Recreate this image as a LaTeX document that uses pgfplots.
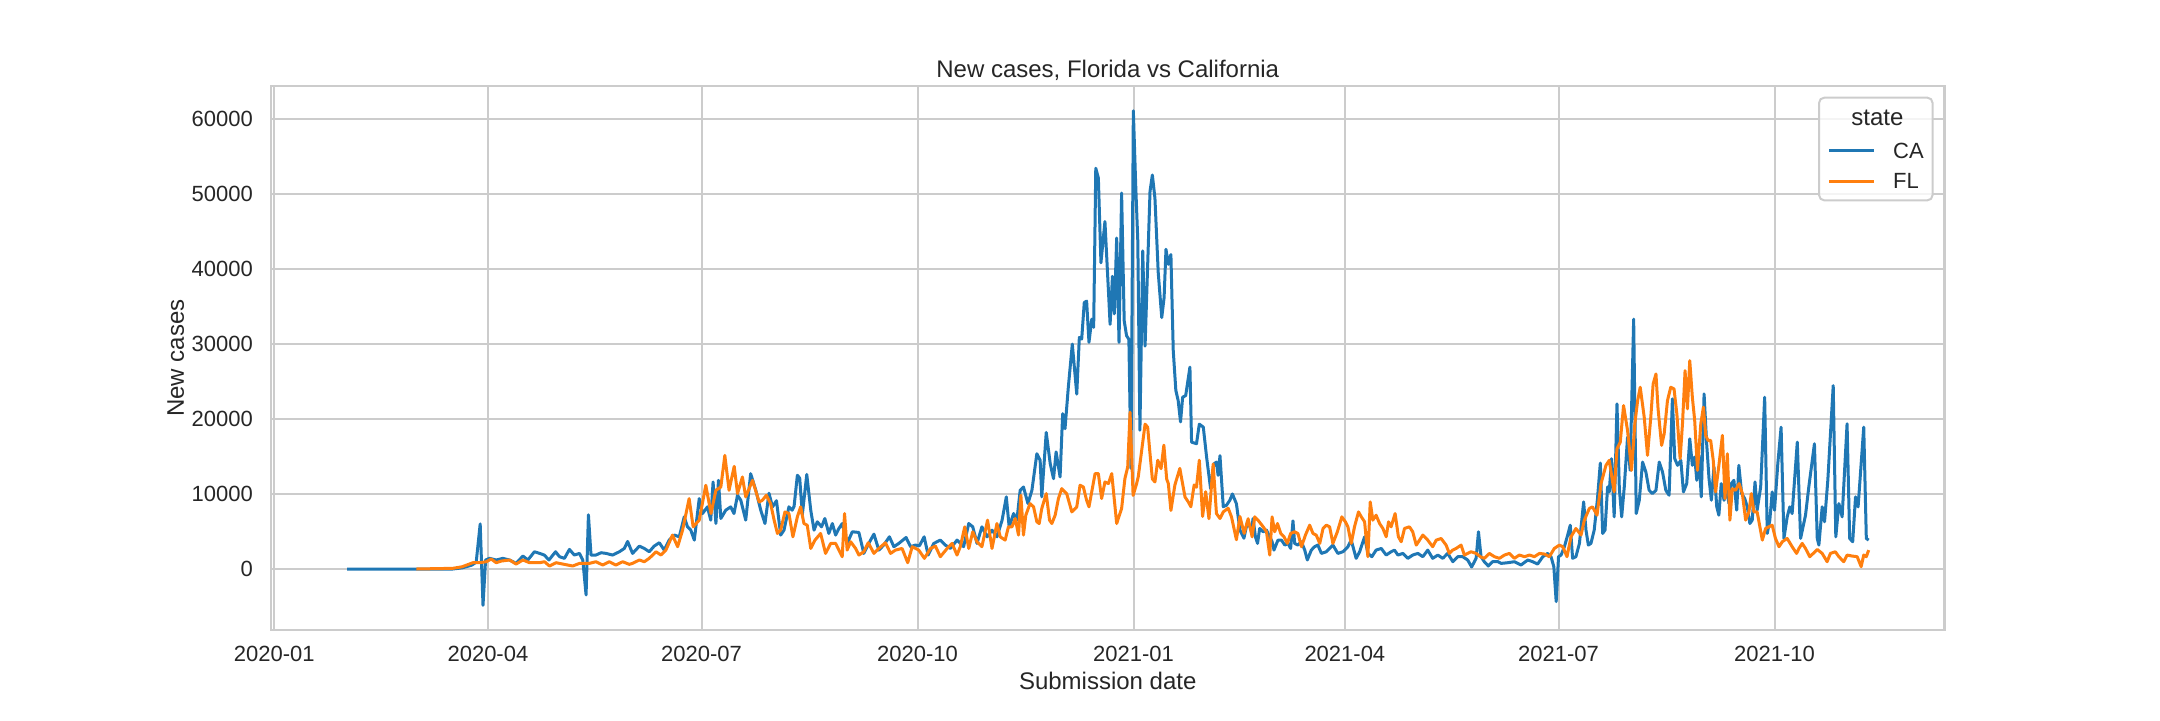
\documentclass[border=0pt]{standalone}
\usepackage{pgfplots}
\pgfplotsset{compat=1.18}
\usepackage{fontspec}
\setmainfont{Liberation Sans}
\definecolor{tabblue}{HTML}{1F77B4}
\definecolor{taborange}{HTML}{FF7F0E}
\definecolor{gridgray}{HTML}{CCCCCC}
\definecolor{textgray}{HTML}{262626}
\begin{document}
\begin{tikzpicture}
\useasboundingbox (0,0) rectangle (1080pt,360pt);
\begin{axis}[
  at={(135.5pt,45pt)}, anchor=south west,
  scale only axis, width=836.75pt, height=272pt,
  xmin=-1.4, xmax=711.4, ymin=-8128, ymax=64357,
  xtick={0,91,182,274,366,456,547,639},
  xticklabels={2020-01,2020-04,2020-07,2020-10,2021-01,2021-04,2021-07,2021-10},
  ytick={0,10000,20000,30000,40000,50000,60000},
  scaled y ticks=false,
  yticklabel style={/pgf/number format/fixed,/pgf/number format/1000 sep={},/pgf/number format/assume math mode=true,anchor=east,inner sep=0pt,xshift=-8.85pt},
  xticklabel style={anchor=base,inner sep=0pt,yshift=-15.85pt},
  tick label style={font=\fontsize{11}{13}\selectfont,color=textgray},
  major tick length=0pt,
  grid=major,
  major grid style={color=gridgray,line width=1pt},
  axis line style={color=gridgray,line width=1.25pt},
  title={New cases, Florida vs California},
  title style={at={(axis description cs:0.5,1)},anchor=base,yshift=-1.5pt,font=\fontsize{12}{14}\selectfont,color=textgray},
  xlabel={Submission date},
  xlabel style={at={(axis description cs:0.5,0)},anchor=base,yshift=-29.5pt,font=\fontsize{12}{14}\selectfont,color=textgray},
  ylabel={New cases},
  ylabel style={at={(axis description cs:-0.0569,0.5)},anchor=center,font=\fontsize{12}{14}\selectfont,color=textgray},
  legend style={at={(axis description cs:1,1)},anchor=north east,xshift=-5.5pt,yshift=-5.35pt,
    draw=gridgray,line width=1pt,rounded corners=2.5pt,fill=white,fill opacity=0.8,text opacity=1,
    text=textgray,font=\fontsize{11}{13}\selectfont,inner xsep=4.4pt,inner ysep=5.7pt,
    column sep=8.6pt,row sep=7.45pt,
    nodes={inner sep=0pt,text height=7.9pt,text depth=0pt}},
  legend cell align=left,
  legend image code/.code={\draw[#1,line width=1.5pt] (0pt,0pt) -- (22.5pt,0pt);},
]
\addlegendimage{empty legend}
\addlegendentry[text height=9.2pt]{\hspace*{-20.9pt}\fontsize{12}{14}\selectfont\raisebox{1.1pt}{state}}

\addplot[color=tabblue,line width=1.5pt,line join=round,no markers] coordinates {
(31,0)(60,0)(76,0)(80,150)(84,500)(86,900)(87.7,6000)(88.9,-4830)(90,1200)(91.7,1420)(94.5,1200)(97.4,1420)(100.2,1200)(103,750)(105.9,1730)(108,1200)(110.8,2300)(113,2080)(115,1860)(117,1200)(119.8,2300)(121.5,1640)(123.6,1420)(125.7,2610)(127.8,1860)(130,2080)(131.4,1200)(132.8,-3450)(133.8,7220)(134.9,1860)(137,1860)(139.2,2170)(141.3,2080)(144.1,1860)(147,2300)(149.1,2740)(150.5,3670)(152.6,2080)(155.5,3050)(157.6,2740)(159.7,2300)(161.8,3050)(164,3500)(166.1,2520)(168.2,3850)(170.4,4520)(172.5,4290)(174.6,6950)(176,5620)(177.4,5180)(178.9,3850)(181,9380)(182.4,7390)(184.5,8280)(185.9,6510)(186.9,11600)(188.1,6060)(189.2,11820)(190.2,6730)(192.3,7840)(194.4,8280)(195.8,7390)(197.3,9830)(198.7,9160)(200.8,6510)(202.9,12700)(205.1,10490)(207.2,7840)(209,6060)(210.7,10100)(212.2,8280)(213.9,9100)(215.7,4520)(217.1,5180)(219.2,8280)(220.6,7840)(221.4,8350)(222.8,12500)(223.8,12100)(224.9,7220)(226.8,12600)(228.5,7840)(229.9,5180)(231.3,6290)(233.1,5620)(234.5,6730)(236.2,4740)(237.7,6060)(239.1,4520)(240.5,5400)(241.9,6060)(244,3410)(246.2,4960)(249,4870)(251.1,2080)(253.2,3410)(255.4,4650)(257.5,2520)(259.6,3190)(262,4290)(263.9,2970)(266,3410)(269.1,4200)(271,2970)(273.1,3190)(274.8,3100)(276.8,4290)(278.5,1860)(280.9,3410)(283.7,3850)(285.8,3190)(288,2740)(290.8,3850)(293.6,2970)(295.8,6060)(297.5,5620)(299.3,3410)(301.4,5620)(303.6,4290)(305.7,5180)(307.8,4290)(310,6510)(311.8,9610)(313,5620)(314.9,7390)(316.3,6510)(317.7,10490)(319.1,10930)(321,8720)(322.7,10490)(324.8,15360)(326.2,14500)(326.9,9610)(328.8,18200)(330.5,14030)(331.9,12040)(333,15600)(334.7,12260)(335.8,20700)(336.8,18700)(338.2,24200)(339.9,29970)(341.8,23310)(342.9,30860)(343.9,30640)(345,35500)(346,35700)(347,30200)(348.2,33300)(349,32200)(349.9,53400)(351,52100)(352.1,40800)(353.8,46300)(355.3,37000)(356,32600)(357,39000)(357.8,34000)(358.8,44100)(359.8,30200)(360.9,50100)(362,33100)(363,31100)(364,30600)(364.9,13400)(365.9,61060)(366.9,51200)(367.8,43700)(368.7,18500)(369.9,42400)(370.9,29700)(373,50300)(374,52500)(375.1,49400)(376.5,39500)(378,33500)(379,36170)(379.8,42600)(380.8,40600)(381.9,41900)(382.9,29100)(384,23800)(385,22440)(386,19600)(386.9,22890)(388.2,23110)(390,26900)(390.7,16900)(392.8,16700)(394,19300)(395.7,18900)(397.1,14920)(398.8,10700)(400.2,14000)(401.3,14250)(402,12480)(402.8,15100)(404.2,8300)(405.6,8500)(407,9160)(408.1,10000)(409.8,8700)(411.3,5200)(413,4100)(414.5,6290)(416.2,5180)(416.9,6730)(417.9,4290)(418.8,3410)(419.7,5400)(421.2,4960)(422.6,5180)(424,4290)(425,3630)(425.8,2520)(427.5,3850)(429,3850)(430.4,3190)(431.8,3410)(432.9,2740)(433.9,6420)(434.6,3410)(436,3190)(437.5,3630)(438.9,2520)(440,1200)(441.7,2520)(443.1,2970)(444.5,3190)(446,2080)(448.1,2300)(450.9,3190)(453,2080)(455.2,2300)(457.3,2970)(458.7,3850)(460.8,1420)(462.3,2300)(464.4,4290)(465.8,2080)(467.5,1640)(469.3,2520)(471.5,2740)(473.6,1860)(475.7,2300)(477.1,2520)(478.6,1860)(480.7,2080)(482.8,1420)(484.9,1860)(487.1,2080)(489.2,1640)(491.3,2520)(493.4,1420)(495.6,1860)(497.7,1420)(499.8,2080)(502,970)(504.1,1640)(506.2,1640)(508.3,1200)(510,270)(511.9,1420)(512.9,4960)(514,1640)(515.4,970)(517.1,400)(518.9,970)(521,1000)(522.6,750)(525.4,840)(528.2,970)(531,530)(533.9,1200)(536,970)(538.1,660)(540.3,1640)(542.4,2080)(543.8,1640)(545,310)(546,-4340)(547,1640)(548.1,1860)(549.5,2970)(550.9,4520)(552,5840)(553,1420)(554.4,1640)(555.9,3410)(557.7,8940)(558.7,5180)(559.7,3190)(560.8,3410)(562.2,5180)(563.6,9390)(564.8,14120)(565.8,4740)(566.8,5180)(567.9,10930)(568.6,10270)(569.6,14700)(570.7,6950)(571.9,22000)(572.9,10710)(573.9,6950)(575,10930)(576.4,17570)(577.5,13150)(579,33290)(580.1,7390)(581.4,9160)(582.8,14250)(584.2,12930)(585.6,10490)(587,10050)(588.5,10490)(589.9,14250)(591.3,12930)(592.7,10490)(594.1,9830)(595.5,22670)(596.5,14700)(597.7,13810)(599.1,14480)(600.2,10270)(601.6,11380)(602.9,17350)(604,13810)(605,14920)(605.9,11820)(606.8,15140)(607.8,9610)(609,23330)(610.1,16690)(611.1,12040)(612.1,9160)(613.2,13590)(614.4,8280)(615.3,7170)(616.3,11380)(617.5,9160)(618.6,10490)(619.6,8720)(620.6,11380)(621.7,11820)(622.9,7840)(623.8,13810)(625,10050)(626.3,9390)(627.4,8280)(628.5,6060)(629.5,6510)(630.7,11600)(631.6,7840)(633.1,10930)(634.8,22890)(635.9,4740)(637,6510)(638,10270)(639,7840)(640.4,14030)(641.8,18900)(643,4070)(644.4,6950)(645.5,8280)(646.5,7390)(648.7,16910)(650.1,4070)(652.2,7170)(653.6,10930)(656,16690)(657.2,4070)(657.9,3190)(659.3,8280)(660.3,6290)(661.7,11820)(664,24440)(665.1,4290)(666.4,8720)(667.8,6950)(669.9,19350)(671,4070)(672.3,3630)(673.5,9610)(674.6,8280)(677,18900)(678.1,4070)(679.1,3850)
};
\addlegendentry{CA}

\addplot[color=taborange,line width=1.5pt,line join=round,no markers] coordinates {
(60.5,0)(76,90)(80,300)(84.6,840)(87.4,840)(90.3,970)(92.4,1330)(94.5,840)(96.7,1060)(100.2,1200)(103,660)(105.9,1200)(108.7,840)(113,840)(115.1,970)(117.2,400)(120,840)(122.9,660)(127.1,400)(130,750)(134.2,750)(137,970)(139.9,530)(142.7,970)(145.5,530)(148.4,970)(151.2,620)(152.6,750)(155.5,1200)(157.6,970)(159.7,1420)(162.6,2300)(164.7,1860)(166.8,2520)(169.6,4520)(171.8,2970)(173.9,5180)(176.7,9380)(178.4,5620)(181,6510)(183.8,11160)(186,7390)(188.1,10490)(190.2,10930)(191.9,15140)(193.7,10490)(195.9,13680)(197.3,10050)(199.4,12260)(200.8,9610)(203.7,11820)(206.5,8940)(207.9,9160)(209.6,9830)(211.4,8720)(212.9,6510)(214.3,4740)(215.7,5180)(217.5,7610)(219.2,7390)(220.9,4290)(222.8,6950)(224.2,8280)(225.6,6060)(227,5840)(228.5,2740)(230.3,3850)(232.7,4740)(234.8,2080)(237,3410)(239.1,3410)(241.9,1640)(242.9,7390)(244,2520)(245.5,3630)(247.6,2740)(249,1860)(251.1,2300)(253,3500)(255.4,2080)(257.5,2740)(260.3,3500)(262.5,2080)(264.6,2520)(267.4,2740)(269.8,840)(271.7,2970)(274.5,2520)(276.9,1420)(279.5,2740)(281.6,3050)(283.7,1640)(286.6,2740)(288.7,3410)(290.8,1860)(292.2,2970)(294.1,5620)(295.8,2740)(297.5,4960)(299.3,3630)(301.4,2970)(303.8,6510)(305.7,2740)(307.8,6060)(309.2,4290)(311.3,3850)(312.7,5620)(314.2,5620)(315.6,6730)(317,4520)(318,9830)(319.1,4520)(320.1,7170)(321.9,8720)(323.4,8280)(324.8,6290)(325.8,6060)(326.9,8060)(328.8,10050)(330.2,6510)(331.2,6060)(332.6,7170)(334,9390)(335.4,10710)(337.5,10050)(339.7,7610)(341.8,8280)(343.2,11160)(344.6,10930)(346,9160)(347,8280)(349.6,12710)(351,12710)(352.4,9390)(353.8,11600)(355.3,11380)(356.7,12710)(358.8,6060)(360.9,8060)(362.3,12040)(363.5,13590)(364.5,20900)(365.8,9800)(367.3,11380)(368,12300)(370.9,19300)(372,18900)(373,15360)(374,12000)(375.1,11600)(376.3,14500)(377.7,13370)(378.9,16500)(380.1,12000)(380.8,11380)(381.9,7800)(383.6,11200)(385.7,13400)(387.9,9600)(389.3,8940)(390.4,8300)(391.8,11200)(392.8,10900)(394,14500)(395.4,7000)(396.7,10300)(398.1,6700)(399.9,14000)(401.3,7390)(402.8,6730)(404.2,7610)(406.3,8100)(407.7,6950)(409.8,3900)(411.3,7000)(413.1,4740)(414.8,6700)(416.5,4290)(417.6,6950)(419,6510)(421.2,5620)(422.6,4960)(424,1860)(425,6950)(426.1,4960)(427.3,6060)(428.7,4740)(430.1,4290)(431.5,3410)(432.9,4740)(434.6,4960)(436,4740)(437.5,2970)(439.2,4520)(441,5840)(442.4,4740)(443.8,4520)(445.3,3410)(446.7,5400)(448.1,5840)(449.5,5620)(450.9,3410)(452.8,4960)(454.7,6950)(456.2,6290)(457.3,5620)(458.7,3410)(460.1,5620)(461.8,7610)(463,6950)(464.4,6290)(465.8,1640)(466.8,8940)(467.9,6510)(469.3,7170)(470.8,6060)(472.2,5400)(473.6,4290)(474.6,6290)(475.7,5620)(477.4,7390)(478.8,4290)(480,3630)(481.4,5400)(483.5,5620)(484.9,4960)(486.4,3190)(487.8,3850)(489.2,4520)(491.3,3850)(493.4,2970)(494.9,3850)(497,4070)(499.1,3190)(500.5,2080)(501.9,2520)(503.4,2740)(505.5,3190)(506.9,1860)(508.3,2080)(509.7,2300)(511.9,2080)(513.7,1640)(515.4,1420)(517.5,2080)(519.7,1640)(521.8,1420)(524,1860)(526.1,2080)(528.2,1420)(530.3,1860)(532.5,1640)(534.6,1860)(536.7,1640)(538.9,2080)(541,1990)(543.1,1640)(545.2,2740)(547.4,3190)(548.8,2970)(550.6,1640)(552.3,4290)(554.4,5400)(556.6,4520)(558,6510)(560.1,8060)(561.5,8280)(563.4,7170)(565.1,11380)(567.2,13810)(568.6,14480)(570.7,10270)(571.9,16030)(573.3,16910)(574.7,21780)(576.4,18460)(578.1,13150)(579.5,19350)(580.7,22440)(581.8,24220)(583.5,20230)(584.9,15140)(586.3,20230)(587.3,24660)(588.5,25990)(589.4,21340)(590.9,16470)(592,18020)(593.4,22440)(594.8,24220)(596.2,23990)(597.4,20670)(598.8,14700)(599.8,19350)(600.9,26430)(601.9,21340)(602.9,27760)(604,22890)(605,19790)(606.2,13150)(607.6,19350)(608.7,21560)(609.7,17800)(610.7,17130)(611.8,17130)(612.9,14480)(613.9,10270)(615.3,13810)(616.8,17800)(617.9,9390)(618.9,15360)(620,6510)(621,10710)(622.4,10490)(623.9,11380)(625.3,10050)(626.7,6510)(628.1,7610)(629.1,10050)(630.2,7610)(631.6,7610)(633.8,3850)(635.2,5400)(636.6,5620)(638,5840)(639.4,4070)(640.9,2970)(642.3,3630)(644.4,4070)(646.5,2970)(648.4,2080)(649.4,2740)(650.8,3410)(652.2,2740)(654,1640)(655.5,2080)(657.2,2610)(659.3,2080)(661.4,970)(662.8,2080)(664.9,2300)(666.4,1640)(668.5,970)(669.9,1860)(672,1730)(674.2,1640)(675.9,310)(677,1860)(678.1,1640)(679.1,2520)
};
\addlegendentry{FL}
\end{axis}
\end{tikzpicture}
\end{document}
